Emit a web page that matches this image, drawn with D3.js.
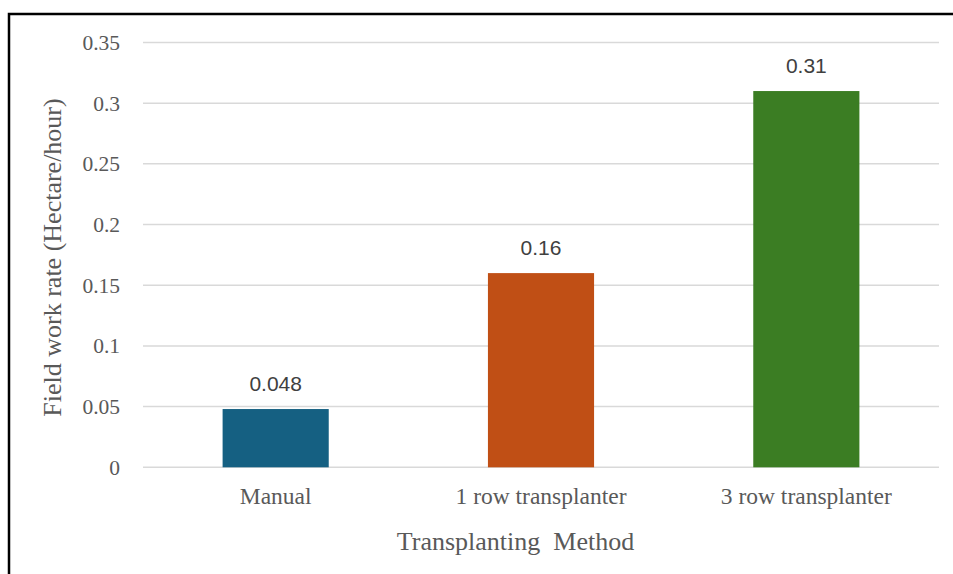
<!DOCTYPE html>
<html><head><meta charset="utf-8">
<script src="https://cdn.jsdelivr.net/npm/d3@7"></script>
<style>body{margin:0;background:#fff}svg{display:block}</style>
</head><body>
<script>
const categories = ["Manual", "1 row transplanter", "3 row transplanter"];
const values = [0.048, 0.16, 0.31];
const valueLabels = ["0.048", "0.16", "0.31"];
const colors = ["#156082", "#C04F15", "#3B7D23"];
const yTicks = [0, 0.05, 0.1, 0.15, 0.2, 0.25, 0.3, 0.35];
const yTickLabels = ["0", "0.05", "0.1", "0.15", "0.2", "0.25", "0.3", "0.35"];

const W = 953, H = 574;
const svg = d3.select("body").append("svg").attr("width", W).attr("height", H);

svg.append("path").attr("d", `M9,${H+5} L9,14 L${W+5},14`).attr("fill","none").attr("stroke","#000").attr("stroke-width",2.5);

const x = d3.scaleBand().domain(categories).range([143, 939]).paddingInner(0.6).paddingOuter(0.3);
const y = d3.scaleLinear().domain([0, 0.35]).range([467.3, 42.5]);

const serif = "'Liberation Serif','Times New Roman',serif";
const sans = "'Liberation Sans',Arial,sans-serif";

svg.append("g").selectAll("line").data(yTicks).join("line")
  .attr("x1", 143).attr("x2", 939)
  .attr("y1", d => y(d)).attr("y2", d => y(d))
  .attr("stroke", "#d9d9d9").attr("stroke-width", 1.5);

svg.append("g").selectAll("text").data(yTicks).join("text")
  .attr("x", 120).attr("y", d => y(d)).attr("dy", "0.35em")
  .attr("text-anchor", "end").attr("font-family", serif).attr("font-size", 21.5)
  .attr("fill", "#595959").text((d, i) => yTickLabels[i]);

svg.append("g").selectAll("rect").data(values).join("rect")
  .attr("x", (d, i) => x(categories[i])).attr("width", x.bandwidth())
  .attr("y", d => y(d)).attr("height", d => y(0) - y(d))
  .attr("fill", (d, i) => colors[i]);

svg.append("g").selectAll("text").data(values).join("text")
  .attr("x", (d, i) => x(categories[i]) + x.bandwidth() / 2)
  .attr("y", d => y(d) - 18)
  .attr("text-anchor", "middle").attr("font-family", sans).attr("font-size", 21)
  .attr("fill", "#404040").text((d, i) => valueLabels[i]);

svg.append("g").selectAll("text").data(categories).join("text")
  .attr("x", d => x(d) + x.bandwidth() / 2).attr("y", 504)
  .attr("text-anchor", "middle").attr("font-family", serif).attr("font-size", 23.5)
  .attr("fill", "#595959").text(d => d);

svg.append("text").attr("x", 515.5).attr("y", 550).attr("text-anchor", "middle")
  .attr("font-family", serif).attr("font-size", 26).attr("fill", "#595959")
  .style("white-space", "pre")
  .text("Transplanting  Method");

svg.append("text").attr("transform", "translate(61,257.5) rotate(-90)").attr("text-anchor", "middle")
  .attr("font-family", serif).attr("font-size", 26).attr("fill", "#595959")
  .text("Field work rate (Hectare/hour)");
</script>
</body></html>
